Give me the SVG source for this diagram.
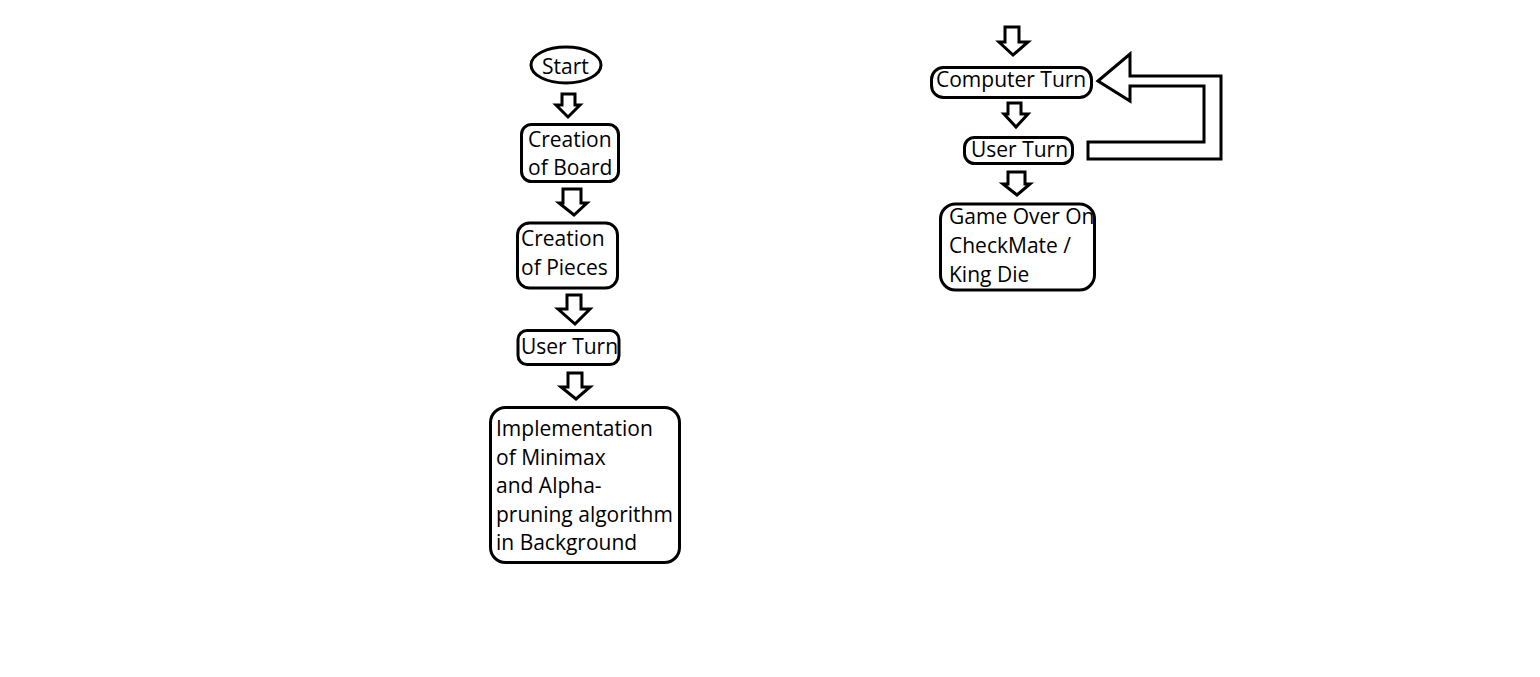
<svg xmlns="http://www.w3.org/2000/svg" width="1540" height="677" viewBox="0 0 1540 677">
<style>
.box{fill:#fff;stroke:#000;stroke-width:3}
.arr{fill:#fff;stroke:#000;stroke-width:3;stroke-linejoin:miter}
text{font-family:"Open Sans","Noto Sans",sans-serif;font-size:21px;fill:#000}
</style>
<rect width="1540" height="677" fill="#fff"/>
<g id="connectors">
<polygon class="arr" points="562,94 575,94 575,105 580,105 568,117 556,105 562,105"/>
<polygon class="arr" points="563,189 581,189 581,203 587,203 574,215 559,203 563,203"/>
<polygon class="arr" points="567,295 581,295 581,309 590,309 575,324 558,309 567,309"/>
<polygon class="arr" points="568,373 582,373 582,387 590,387 576,399 561,387 568,387"/>
<polygon class="arr" points="1005,27 1019,27 1019,42 1028,42 1013,55 999,42 1005,42"/>
<polygon class="arr" points="1008,103 1021,103 1021,114 1028,114 1016,127 1004,114 1008,114"/>
<polygon class="arr" points="1008,172 1025,172 1025,184 1030,184 1017,195 1003,184 1008,184"/>
<polygon class="arr" points="1098,81 1130,54 1130,76 1221,76 1221,159 1088,159 1088,142 1204,142 1204,86 1130,86 1130,101"/>
</g>
<g id="start">
<ellipse class="box" cx="566" cy="65" rx="35" ry="18"/>
<text x="542" y="74">Start</text>
</g>
<g id="board">
<rect class="box" x="521.5" y="124.5" width="97" height="57" rx="10"/>
<text x="528" y="147">Creation</text>
<text x="528" y="175">of Board</text>
</g>
<g id="pieces">
<rect class="box" x="517.5" y="223" width="100" height="65" rx="12"/>
<text x="521" y="246">Creation</text>
<text x="521" y="275">of Pieces</text>
</g>
<g id="userturn1">
<rect class="box" x="518" y="330.5" width="101" height="34" rx="9"/>
<text x="521" y="354">User Turn</text>
</g>
<g id="minimax">
<rect class="box" x="490.5" y="407.5" width="189" height="155" rx="15"/>
<text x="496" y="436">Implementation</text>
<text x="496" y="465">of Minimax</text>
<text x="496" y="493">and Alpha-</text>
<text x="496" y="522">pruning algorithm</text>
<text x="496" y="550">in Background</text>
</g>
<g id="computerturn">
<rect class="box" x="931.5" y="67.5" width="160" height="30" rx="12"/>
<text x="936" y="87">Computer Turn</text>
</g>
<g id="userturn2">
<rect class="box" x="964.5" y="137.5" width="108" height="26" rx="10"/>
<text x="971" y="157">User Turn</text>
</g>
<g id="gameover">
<rect class="box" x="940.5" y="204" width="154" height="86" rx="15"/>
<text x="949" y="224">Game Over On</text>
<text x="949" y="253">CheckMate /</text>
<text x="949" y="282">King Die</text>
</g>
</svg>
